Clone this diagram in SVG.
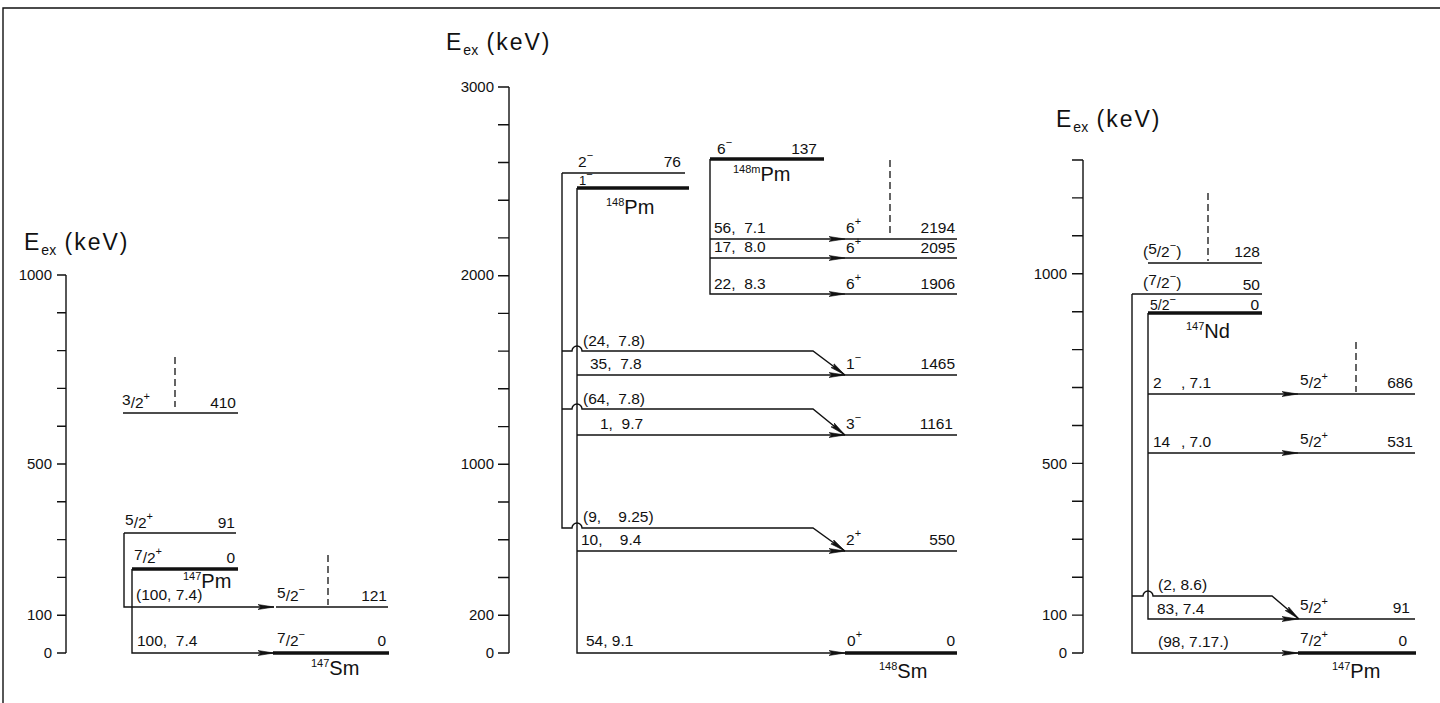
<svg xmlns="http://www.w3.org/2000/svg" width="1440" height="703" viewBox="0 0 1440 703">
<style>
text{font-family:"Liberation Sans","DejaVu Sans",sans-serif;fill:#111;white-space:pre}
.t{font-size:15.5px}
.e{font-size:15.5px;text-anchor:end}
.ax{font-size:15px;text-anchor:end}
.ttl{font-size:23px;letter-spacing:2px}
.sub{font-size:14px;letter-spacing:0}
.sup{font-size:11px}
.nuc{font-size:20px}
.lv{stroke:#111;stroke-width:1.4;fill:none}
.gs{stroke:#111;stroke-width:3.6;fill:none}
.ds{stroke:#111;stroke-width:1.3;stroke-dasharray:7,4;fill:none}
.axl{stroke:#111;stroke-width:1.4;fill:none}
.tr{stroke:#111;stroke-width:1.4;fill:none;marker-end:url(#arr)}
.br{stroke:#111;stroke-width:1.4;fill:none}
</style>
<defs>
<marker id="arr" markerUnits="userSpaceOnUse" viewBox="0 0 16 7" markerWidth="16" markerHeight="7" refX="16" refY="3.5" orient="auto">
<path d="M0,1 L16,3.5 L0,6 L3,3.5 z" fill="#111" stroke="#111" stroke-width="0.6"/>
</marker>
</defs>
<rect width="1440" height="703" fill="#fff"/>
<g id="frame"><path d="M3,703 V8 H1440" class="br"/></g>

<!-- LEFT PANEL -->
<g id="axis-left">
<text class="ttl" x="24" y="250">E<tspan class="sub" dy="5">ex</tspan><tspan dy="-5"> (keV)</tspan></text>
<path class="axl" d="M66,275 V653 M57,275 H66 M57,312.8 H66 M57,350.6 H66 M57,388.4 H66 M57,426.2 H66 M57,464 H66 M57,501.8 H66 M57,539.6 H66 M57,577.4 H66 M57,615.2 H66 M57,653 H66"/>
<text class="ax" x="52" y="280">1000</text>
<text class="ax" x="52" y="469">500</text>
<text class="ax" x="52" y="620">100</text>
<text class="ax" x="52" y="658">0</text>
</g>
<g id="pm147-410">
<line class="lv" x1="123" y1="413" x2="238" y2="413"/>
<line class="ds" x1="175" y1="357" x2="175" y2="407"/>
<text class="t" x="122" y="408"><tspan dy="-3">3</tspan><tspan dy="3">/2</tspan><tspan class="sup" dy="-8">+</tspan></text>
<text class="e" x="236" y="408">410</text>
</g>
<g id="pm147-91">
<line class="lv" x1="124" y1="533" x2="236" y2="533"/>
<text class="t" x="125" y="528"><tspan dy="-3">5</tspan><tspan dy="3">/2</tspan><tspan class="sup" dy="-8">+</tspan></text>
<text class="e" x="235" y="528">91</text>
</g>
<g id="pm147-0">
<line class="gs" x1="132" y1="569" x2="238" y2="569"/>
<text class="t" x="134" y="563"><tspan dy="-3">7</tspan><tspan dy="3">/2</tspan><tspan class="sup" dy="-8">+</tspan></text>
<text class="e" x="235" y="563">0</text>
<text class="nuc" x="183" y="588"><tspan class="sup" dy="-8">147</tspan><tspan dy="8">Pm</tspan></text>
</g>
<g id="sm147-121">
<line class="lv" x1="276" y1="607" x2="388" y2="607"/>
<line class="ds" x1="328" y1="555" x2="328" y2="605"/>
<text class="t" x="277" y="601"><tspan dy="-3">5</tspan><tspan dy="3">/2</tspan><tspan class="sup" dy="-8">−</tspan></text>
<text class="e" x="387" y="601">121</text>
</g>
<g id="sm147-0">
<line class="gs" x1="273" y1="653" x2="389" y2="653"/>
<text class="t" x="277" y="646"><tspan dy="-3">7</tspan><tspan dy="3">/2</tspan><tspan class="sup" dy="-8">−</tspan></text>
<text class="e" x="386" y="646">0</text>
<text class="nuc" x="311" y="675"><tspan class="sup" dy="-8">147</tspan><tspan dy="8">Sm</tspan></text>
</g>

<!-- MIDDLE PANEL -->
<g id="axis-middle">
<text class="ttl" x="446" y="50">E<tspan class="sub" dy="5">ex</tspan><tspan dy="-5"> (keV)</tspan></text>
<path class="axl" d="M509,87 V653 M498,87 H509 M498,124.7 H509 M498,162.5 H509 M498,200.2 H509 M498,237.9 H509 M498,275.7 H509 M498,313.4 H509 M498,351.1 H509 M498,388.8 H509 M498,426.6 H509 M498,464.3 H509 M498,502 H509 M498,539.8 H509 M498,577.5 H509 M498,615.3 H509 M498,653 H509"/>
<text class="ax" x="494" y="92">3000</text>
<text class="ax" x="494" y="280">2000</text>
<text class="ax" x="494" y="469">1000</text>
<text class="ax" x="494" y="620">200</text>
<text class="ax" x="494" y="658">0</text>
</g>
<g id="pm148-76">
<line class="lv" x1="562" y1="173" x2="685" y2="173"/>
<text class="t" x="578" y="167">2<tspan class="sup" dy="-8">−</tspan></text>
<text class="e" x="681" y="167">76</text>
</g>
<g id="pm148-0">
<line class="gs" x1="577" y1="188" x2="689" y2="188"/>
<text class="t" x="579" y="185" style="font-size:13px">1<tspan class="sup" dy="-7">−</tspan></text>
<text class="nuc" x="606" y="214"><tspan class="sup" dy="-8">148</tspan><tspan dy="8">Pm</tspan></text>
</g>
<g id="pm148m-137">
<line class="gs" x1="710" y1="159" x2="824" y2="159"/>
<text class="t" x="717" y="154">6<tspan class="sup" dy="-8">−</tspan></text>
<text class="e" x="817" y="154">137</text>
<text class="nuc" x="733" y="181"><tspan class="sup" dy="-8">148m</tspan><tspan dy="8">Pm</tspan></text>
</g>
<g id="sm148-2194">
<line class="lv" x1="845" y1="239" x2="957" y2="239"/>
<line class="ds" x1="890" y1="160" x2="890" y2="237"/>
<text class="t" x="846" y="233">6<tspan class="sup" dy="-8">+</tspan></text>
<text class="e" x="955" y="233">2194</text>
</g>
<g id="sm148-2095">
<line class="lv" x1="845" y1="258" x2="957" y2="258"/>
<text class="t" x="846" y="253">6<tspan class="sup" dy="-8">+</tspan></text>
<text class="e" x="955" y="253">2095</text>
</g>
<g id="sm148-1906">
<line class="lv" x1="845" y1="294" x2="957" y2="294"/>
<text class="t" x="846" y="289">6<tspan class="sup" dy="-8">+</tspan></text>
<text class="e" x="955" y="289">1906</text>
</g>
<g id="sm148-1465">
<line class="lv" x1="845" y1="375" x2="957" y2="375"/>
<text class="t" x="846" y="369">1<tspan class="sup" dy="-8">−</tspan></text>
<text class="e" x="955" y="369">1465</text>
</g>
<g id="sm148-1161">
<line class="lv" x1="845" y1="435" x2="957" y2="435"/>
<text class="t" x="846" y="429">3<tspan class="sup" dy="-8">−</tspan></text>
<text class="e" x="953" y="429">1161</text>
</g>
<g id="sm148-550">
<line class="lv" x1="845" y1="551" x2="957" y2="551"/>
<text class="t" x="846" y="545">2<tspan class="sup" dy="-8">+</tspan></text>
<text class="e" x="955" y="545">550</text>
</g>
<g id="sm148-0">
<line class="gs" x1="845" y1="653" x2="957" y2="653"/>
<text class="t" x="847" y="646">0<tspan class="sup" dy="-8">+</tspan></text>
<text class="e" x="955" y="646">0</text>
<text class="nuc" x="879" y="678"><tspan class="sup" dy="-8">148</tspan><tspan dy="8">Sm</tspan></text>
</g>

<!-- RIGHT PANEL -->
<g id="axis-right">
<text class="ttl" x="1056" y="127">E<tspan class="sub" dy="5">ex</tspan><tspan dy="-5"> (keV)</tspan></text>
<path class="axl" d="M1083,160 V653 M1072,160 H1083 M1072,197.9 H1083 M1072,235.8 H1083 M1072,273.8 H1083 M1072,311.7 H1083 M1072,349.6 H1083 M1072,387.5 H1083 M1072,425.5 H1083 M1072,463.4 H1083 M1072,501.3 H1083 M1072,539.2 H1083 M1072,577.2 H1083 M1072,615.1 H1083 M1072,653 H1083"/>
<text class="ax" x="1067" y="279">1000</text>
<text class="ax" x="1067" y="469">500</text>
<text class="ax" x="1067" y="620">100</text>
<text class="ax" x="1067" y="658">0</text>
</g>
<g id="nd147-128">
<line class="lv" x1="1148" y1="263" x2="1262" y2="263"/>
<line class="ds" x1="1208" y1="193" x2="1208" y2="261"/>
<text class="t" x="1143" y="257">(<tspan dy="-3">5</tspan><tspan dy="3">/2</tspan><tspan class="sup" dy="-8">−</tspan><tspan dy="8">)</tspan></text>
<text class="e" x="1260" y="257">128</text>
</g>
<g id="nd147-50">
<line class="lv" x1="1132" y1="294" x2="1262" y2="294"/>
<text class="t" x="1143" y="288">(<tspan dy="-3">7</tspan><tspan dy="3">/2</tspan><tspan class="sup" dy="-8">−</tspan><tspan dy="8">)</tspan></text>
<text class="e" x="1260" y="290">50</text>
</g>
<g id="nd147-0">
<line class="gs" x1="1148" y1="313" x2="1262" y2="313"/>
<text class="t" x="1150" y="310" style="font-size:14px">5/2<tspan class="sup" dy="-7">−</tspan></text>
<text class="e" x="1259" y="310">0</text>
<text class="nuc" x="1186" y="338"><tspan class="sup" dy="-8">147</tspan><tspan dy="8">Nd</tspan></text>
</g>
<g id="pm147b-686">
<line class="lv" x1="1298" y1="394" x2="1415" y2="394"/>
<line class="ds" x1="1356" y1="342" x2="1356" y2="392"/>
<text class="t" x="1300" y="388"><tspan dy="-3">5</tspan><tspan dy="3">/2</tspan><tspan class="sup" dy="-8">+</tspan></text>
<text class="e" x="1413" y="388">686</text>
</g>
<g id="pm147b-531">
<line class="lv" x1="1298" y1="453" x2="1415" y2="453"/>
<text class="t" x="1300" y="447"><tspan dy="-3">5</tspan><tspan dy="3">/2</tspan><tspan class="sup" dy="-8">+</tspan></text>
<text class="e" x="1413" y="447">531</text>
</g>
<g id="pm147b-91">
<line class="lv" x1="1298" y1="619" x2="1415" y2="619"/>
<text class="t" x="1300" y="613"><tspan dy="-3">5</tspan><tspan dy="3">/2</tspan><tspan class="sup" dy="-8">+</tspan></text>
<text class="e" x="1410" y="613">91</text>
</g>
<g id="pm147b-0">
<line class="gs" x1="1298" y1="653" x2="1416" y2="653"/>
<text class="t" x="1300" y="646"><tspan dy="-3">7</tspan><tspan dy="3">/2</tspan><tspan class="sup" dy="-8">+</tspan></text>
<text class="e" x="1407" y="646">0</text>
<text class="nuc" x="1332" y="678"><tspan class="sup" dy="-8">147</tspan><tspan dy="8">Pm</tspan></text>
</g>

<!-- CONNECTORS -->
<g id="connectors">
<!-- left -->
<path class="tr" d="M124,533 V607 H274"/>
<path class="tr" d="M132,569 V653 H274"/>
<text class="t" x="136" y="600">(100, 7.4)</text>
<text class="t" x="137" y="646">100,  7.4</text>
<!-- middle: 148Pm 2- outer -->
<path class="tr" d="M562,173 V528 H572 a5,5 0 0 1 10,0 H813 L845,551"/>
<path class="tr" d="M562,351 H572 a5,5 0 0 1 10,0 H813 L845,375"/>
<path class="tr" d="M562,409 H572 a5,5 0 0 1 10,0 H813 L845,435"/>
<!-- middle: 148Pm 1- inner -->
<path class="tr" d="M577,188 V653 H845"/>
<path class="tr" d="M577,375 H845"/>
<path class="tr" d="M577,435 H845"/>
<path class="tr" d="M577,551 H845"/>
<!-- middle: 148mPm -->
<path class="tr" d="M710,159 V294 H845"/>
<path class="tr" d="M710,239 H845"/>
<path class="tr" d="M710,258 H845"/>
<text class="t" x="583" y="346">(24,  7.8)</text>
<text class="t" x="590" y="369">35,  7.8</text>
<text class="t" x="583" y="404">(64,  7.8)</text>
<text class="t" x="600" y="429">1,  9.7</text>
<text class="t" x="583" y="522">(9,    9.25)</text>
<text class="t" x="581" y="545">10,    9.4</text>
<text class="t" x="586" y="646">54, 9.1</text>
<text class="t" x="714" y="233">56,  7.1</text>
<text class="t" x="714" y="252">17,  8.0</text>
<text class="t" x="714" y="289">22,  8.3</text>
<!-- right -->
<path class="tr" d="M1132,294 V653 H1298"/>
<path class="tr" d="M1132,596 H1143 a5,5 0 0 1 10,0 H1272 L1299,619"/>
<path class="tr" d="M1148,313 V619 H1298"/>
<path class="tr" d="M1148,394 H1298"/>
<path class="tr" d="M1148,453 H1298"/>
<text class="t" x="1153" y="388">2<tspan x="1181">, 7.1</tspan></text>
<text class="t" x="1153" y="447">14<tspan x="1181">, 7.0</tspan></text>
<text class="t" x="1158" y="590">(2, 8.6)</text>
<text class="t" x="1157" y="614">83, 7.4</text>
<text class="t" x="1158" y="647">(98, 7.17.)</text>
</g>
</svg>
